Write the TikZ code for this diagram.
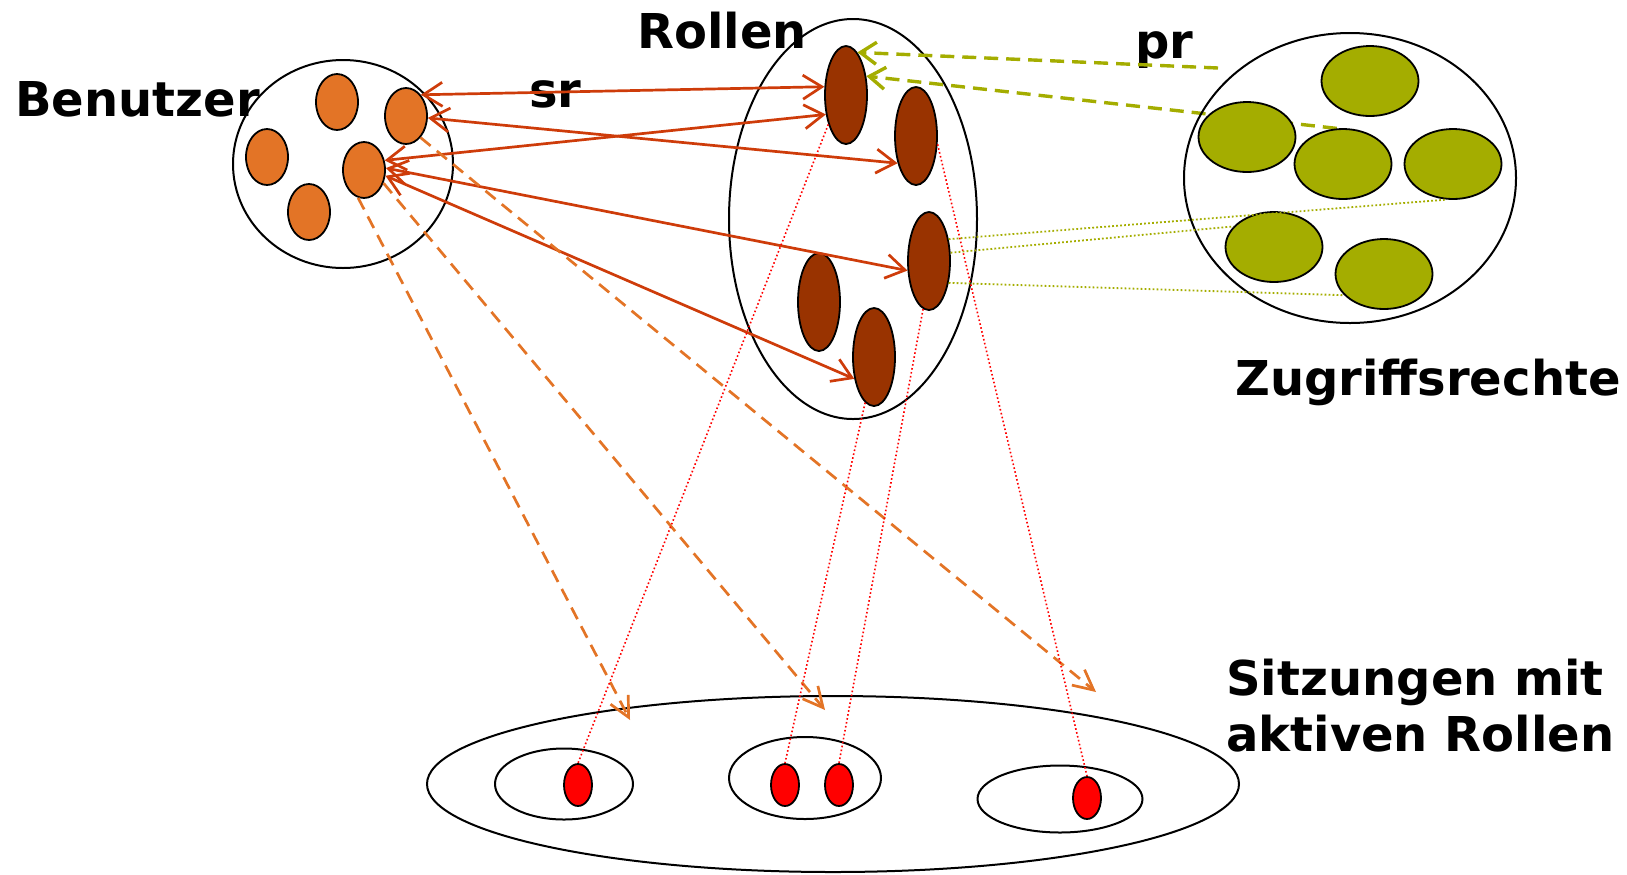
\documentclass[tikz,border=0pt]{standalone}
\usepackage{fontspec}
\setmainfont{DejaVu Sans}
\usetikzlibrary{shapes.geometric,arrows.meta}
\definecolor{userc}{RGB}{227,116,38}
\definecolor{rolec}{RGB}{153,51,0}
\definecolor{permc}{RGB}{164,173,0}
\definecolor{src}{RGB}{206,60,10}
\pgfdeclarelayer{bg}
\pgfsetlayers{bg,main}
\begin{document}
\begin{tikzpicture}[x=0.5pt,y=-0.5pt,
  setbox/.style={draw=black,line width=1pt,ellipse,inner sep=0pt},
  blob/.style={draw=black,line width=0.9pt,ellipse,inner sep=0pt},
  user/.style={blob,fill=userc,minimum width=21pt,minimum height=28pt},
  role/.style={blob,fill=rolec,minimum width=21pt,minimum height=49pt},
  perm/.style={blob,fill=permc,minimum width=48.5pt,minimum height=35pt},
  act/.style={blob,fill=red,minimum width=14pt,minimum height=21pt},
  lbl/.style={font=\fontsize{24}{28}\selectfont\bfseries,inner sep=0pt,anchor=base west},
  srarrow/.style={draw=src,line width=1.35pt,{Straight Barb[length=9.5pt,width=12pt]}-{Straight Barb[length=9.5pt,width=12pt]}},
  sessarrow/.style={draw=userc,line width=1.35pt,dash pattern=on 6.5pt off 4pt,-{Straight Barb[length=10pt,width=10pt]}},
  prarrow/.style={draw=permc,line width=1.7pt,dash pattern=on 7pt off 4pt,-{Straight Barb[length=8pt,width=11pt]}},
  actline/.style={draw=red,line width=0.8pt,dash pattern=on 0.8pt off 1.2pt},
  prline/.style={draw=permc,line width=0.9pt,dash pattern=on 0.9pt off 1.1pt}]
\useasboundingbox (0,0) rectangle (1627,874);
% sets
\node[setbox,minimum width=110pt,minimum height=104pt] (B) at (343,164) {};
\node[setbox,minimum width=124pt,minimum height=200pt] (R) at (853,219) {};
\node[setbox,minimum width=166pt,minimum height=145pt] (Z) at (1350,178) {};
\node[setbox,minimum width=406pt,minimum height=88pt] (S) at (833,784) {};
\node[setbox,minimum width=69pt,minimum height=35.5pt] (s1) at (564,784) {};
\node[setbox,minimum width=76pt,minimum height=41pt] (s2) at (805,778) {};
\node[setbox,minimum width=82.5pt,minimum height=33.5pt] (s3) at (1060,799) {};
% users
\node[user] (u1) at (337,102) {};
\node[user] (u2) at (406,116) {};
\node[user] (u3) at (267,157) {};
\node[user] (u4) at (364,170) {};
\node[user] (u5) at (309,212) {};
% roles
\node[role] (r1) at (846,95) {};
\node[role] (r2) at (916,136) {};
\node[role] (r3) at (929,261) {};
\node[role] (r4) at (819,302) {};
\node[role] (r5) at (874,357) {};
% permissions
\node[perm] (p1) at (1370,81) {};
\node[perm] (p2) at (1247,137) {};
\node[perm] (p3) at (1343,164) {};
\node[perm] (p4) at (1453,164) {};
\node[perm] (p5) at (1274,247) {};
\node[perm] (p6) at (1384,274) {};
% active roles
\node[act] (a1) at (578,785) {};
\node[act] (a2) at (785,785) {};
\node[act] (a3) at (839,785) {};
\node[act] (a4) at (1087,798) {};
% free ends
\coordinate (prfree) at (1218,68);
\coordinate (t1) at (630,720);
\coordinate (t2) at (825,710);
\coordinate (t3) at (1096,692);
% labels
\node[lbl] (lb) at (15,116) {Benutzer};
\node[lbl] (lsr) at (529,107) {sr};
\node[lbl] (lr) at (637,48) {Rollen};
\node[lbl] (lpr) at (1135,58) {pr};
\node[lbl] (lz) at (1235,395) {Zugriffsrechte};
\node[lbl] (ls1) at (1226,695) {Sitzungen mit};
\node[lbl] (ls2) at (1226,751) {aktiven Rollen};
% sr
\draw[srarrow] (u2.55) -- (r1.159);
\draw[srarrow] (u2.-5) -- (r2.236);
\draw[srarrow] (u4.25) -- (r1.224);
\draw[srarrow] (u4.5) -- (r3.204);
\draw[srarrow] (u4.-15) -- (r5.228);
% user -> session
\draw[sessarrow] (u4.258) -- (t1);
\draw[sessarrow] (u4.326) -- (t2);
\draw[sessarrow] (u2.304) -- (t3);
% role -> active role
\draw[actline] (r1.239) -- (a1.north);
\draw[actline] (r5.259) -- (a2.north);
\draw[actline] (r3.263) -- (a3.north);
\draw[actline] (r2.339) -- (a4.north);
% pr
\draw[prarrow] (prfree) -- (r1.75);
\begin{pgfonlayer}{bg}
\draw[prarrow] (p3.100) -- (r1.43);
\end{pgfonlayer}
\draw[prline] (r3.48) -- (p4.260);
\draw[prline] (r3.21) -- (p5.153);
\draw[prline] (r3.312) -- (p6.208);
\end{tikzpicture}
\end{document}
